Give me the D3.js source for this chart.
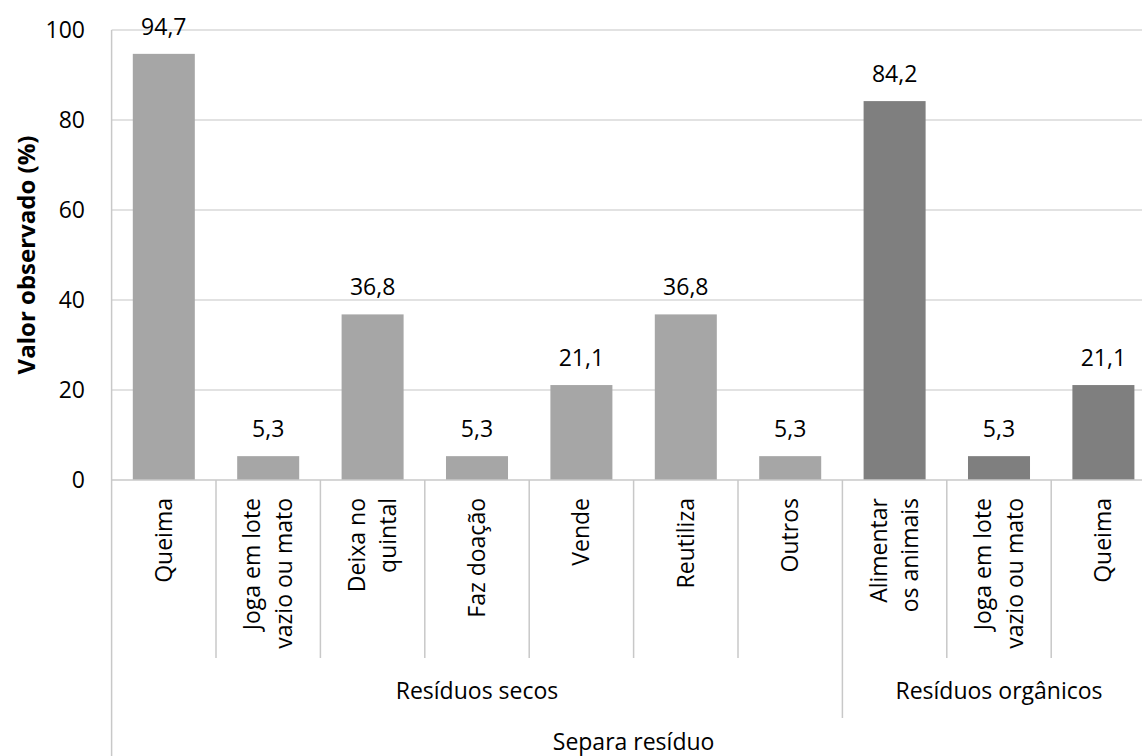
<!DOCTYPE html>
<html>
<head>
<meta charset="utf-8">
<script src="https://cdn.jsdelivr.net/npm/d3@7/dist/d3.min.js"></script>
<style>
  html, body { margin: 0; padding: 0; background: #fff; }
  svg { display: block; font-family: "Open Sans", sans-serif; }
</style>
</head>
<body>
<svg id="chart" width="1142" height="756"></svg>
<script>
// ---- data ----
const categories = [
  "Queima",
  "Joga em lote\nvazio ou mato",
  "Deixa no\nquintal",
  "Faz doação",
  "Vende",
  "Reutiliza",
  "Outros",
  "Alimentar\nos animais",
  "Joga em lote\nvazio ou mato",
  "Queima"
];
const values = [94.7, 5.3, 36.8, 5.3, 21.1, 36.8, 5.3, 84.2, 5.3, 21.1];
const groupNames = ["Resíduos secos", "Resíduos orgânicos"];
const groupSizes = [7, 3];
const topLabel = "Separa resíduo";
const yTicks = [0, 20, 40, 60, 80, 100];
const yTitle = "Valor observado (%)";

// ---- layout ----
const pLeft = 111.6, pRight = 1155.6, pTop = 30, pBottom = 480;
const FS = 23;
const svg = d3.select("#chart");
const idx = categories.map((d, i) => i);

const x = d3.scaleBand().domain(idx).range([pLeft, pRight])
  .paddingInner(0.406).paddingOuter(0.203);
const y = d3.scaleLinear().domain([0, 100]).range([pBottom, pTop]);
const step = x.step();

// group index of each category
const groupOf = [];
groupSizes.forEach((n, g) => { for (let k = 0; k < n; k++) groupOf.push(g); });
const colors = ["#a6a6a6", "#7f7f7f"];

const fmt = v => d3.format(".1f")(v).replace(".", ",");

// gridlines
svg.append("g").selectAll("line").data(yTicks.filter(t => t > 0)).join("line")
  .attr("x1", pLeft).attr("x2", pRight)
  .attr("y1", d => y(d)).attr("y2", d => y(d))
  .attr("stroke", "#d9d9d9").attr("stroke-width", 1.3);

// y tick labels
svg.append("g").selectAll("text").data(yTicks).join("text")
  .attr("x", 85).attr("y", d => y(d)).attr("dy", "0.36em")
  .attr("text-anchor", "end").attr("font-size", FS).attr("fill", "#000")
  .text(d => d);

// y title
svg.append("text")
  .attr("transform", `translate(35,${(pTop + pBottom) / 2}) rotate(-90)`)
  .attr("text-anchor", "middle").attr("font-size", 24).attr("font-weight", "bold")
  .attr("fill", "#000").text(yTitle);

// bars
svg.append("g").selectAll("rect").data(values).join("rect")
  .attr("x", (d, i) => x(i)).attr("width", x.bandwidth())
  .attr("y", d => y(d)).attr("height", d => y(0) - y(d))
  .attr("fill", (d, i) => colors[groupOf[i]]);

// value labels
svg.append("g").selectAll("text").data(values).join("text")
  .attr("x", (d, i) => x(i) + x.bandwidth() / 2)
  .attr("y", d => y(d) - 19)
  .attr("text-anchor", "middle").attr("font-size", FS).attr("fill", "#000")
  .text(d => fmt(d));

// axis lines
const axisColor = "#c8c8c8";
svg.append("line").attr("x1", pLeft).attr("x2", pRight).attr("y1", pBottom).attr("y2", pBottom)
  .attr("stroke", axisColor).attr("stroke-width", 1.5);
svg.append("line").attr("x1", pLeft).attr("x2", pLeft).attr("y1", pTop).attr("y2", 756)
  .attr("stroke", axisColor).attr("stroke-width", 1.5);

// inner category boundaries
const boundaries = d3.range(1, categories.length);
const groupEnds = d3.cumsum(groupSizes);
svg.append("g").selectAll("line").data(boundaries).join("line")
  .attr("x1", d => pLeft + d * step).attr("x2", d => pLeft + d * step)
  .attr("y1", pBottom).attr("y2", d => groupEnds.includes(d) ? 718 : 658)
  .attr("stroke", axisColor).attr("stroke-width", 1.5);
svg.append("line").attr("x1", pRight).attr("x2", pRight).attr("y1", pBottom).attr("y2", 756)
  .attr("stroke", axisColor).attr("stroke-width", 1.5);

// category labels (rotated)
const catG = svg.append("g").selectAll("text").data(categories).join("text")
  .attr("transform", (d, i) => `translate(${x(i) + x.bandwidth() / 2},498) rotate(-90)`)
  .attr("text-anchor", "end").attr("font-size", FS).attr("fill", "#000");
catG.each(function(d) {
  const lines = d.split("\n");
  const lh = 31.5;
  d3.select(this).selectAll("tspan").data(lines).join("tspan")
    .attr("x", 0)
    .attr("y", (l, k) => (k - (lines.length - 1) / 2) * lh + 8)
    .text(l => l);
});

// group labels
let gStart = 0;
groupNames.forEach((g, gi) => {
  const n = groupSizes[gi];
  const cx = pLeft + (gStart + n / 2) * step;
  svg.append("text").attr("x", cx).attr("y", 699)
    .attr("text-anchor", "middle").attr("font-size", FS).attr("fill", "#000").text(g);
  gStart += n;
});

// top-level label
svg.append("text").attr("x", (pLeft + pRight) / 2).attr("y", 750)
  .attr("text-anchor", "middle").attr("font-size", FS).attr("fill", "#000").text(topLabel);
</script>
</body>
</html>
